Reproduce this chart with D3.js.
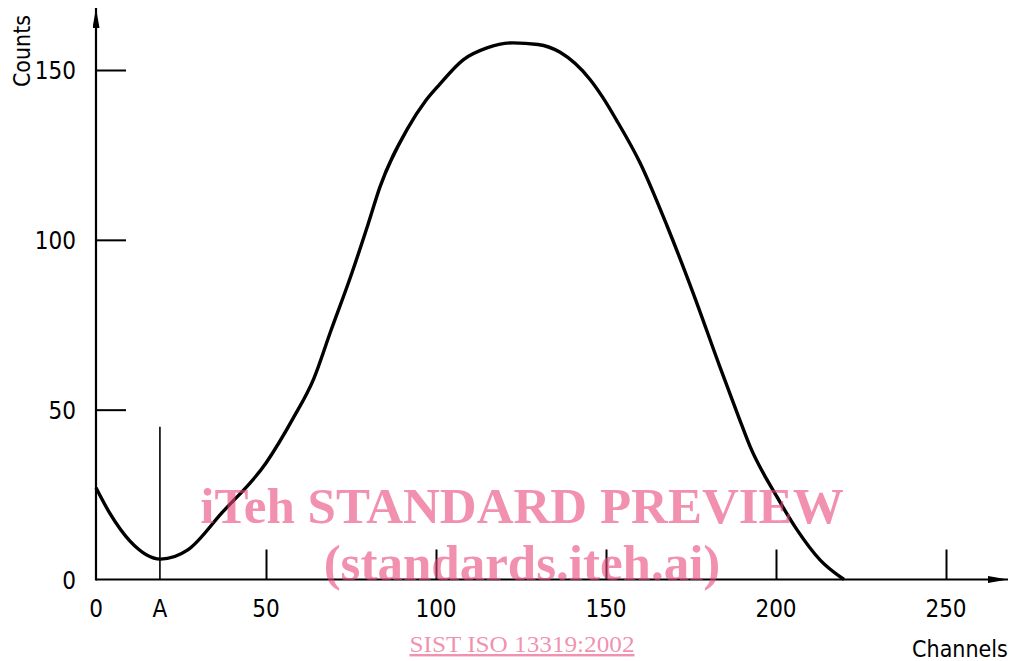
<!DOCTYPE html>
<html>
<head>
<meta charset="utf-8">
<title>Counts vs Channels</title>
<script src="https://cdn.jsdelivr.net/npm/d3@7"></script>
<style>
	body { margin: 0; background: #fff; }
	svg { display: block; }
</style>
</head>
<body>
<div id="visContainer"></div>
<script>
'use strict';

// channel positions
var channels = [0, 4, 10, 19, 27, 37, 50, 58, 64, 69, 75, 80, 83.5, 91.5, 97, 101, 108, 115, 122.6, 130,
	136.5, 145.3, 149, 153, 160, 168, 175.6, 183.5, 189, 192.4, 200.3, 206.2, 213, 220];
// counts at each channel
var counts = [27, 19.6, 11.3, 6, 8.7, 19.6, 34.3, 47.5, 59, 73, 89.5, 104.5, 115.5, 132.5, 141, 145.7, 153, 156.5, 158, 157.5,
	155.2, 147.2, 142, 135.4, 122.7, 104, 84.4, 62.6, 47.9, 39.1, 24.3, 14.6, 5.7, 0];

var xTicks = [50, 100, 150, 200, 250];
var yTicks = [50, 100, 150];
var markerA = [18.8, 45];   // channel A and height of its marker line

var svg = d3.select('#visContainer')
	.append('svg')
	.attr('width', 1010)
	.attr('height', 661);

var xScale = d3.scaleLinear().domain([0, 250]).range([96, 946]);
var yScale = d3.scaleLinear().domain([0, 150]).range([579.5, 70]);

var NUM_FONT = '"Liberation Sans Narrow", "DejaVu Sans Condensed", sans-serif';
var TXT_FONT = '"DejaVu Sans Condensed", "DejaVu Sans", sans-serif';

// arrow heads
var defs = svg.append('defs');
defs.append('marker')
	.attr('id', 'arrow')
	.attr('viewBox', '0 0 20 7')
	.attr('refX', 20)
	.attr('refY', 3.5)
	.attr('markerWidth', 20)
	.attr('markerHeight', 7)
	.attr('markerUnits', 'userSpaceOnUse')
	.attr('orient', 'auto')
	.append('path')
	.attr('d', 'M0,0 L20,3.5 L0,7 Z')
	.attr('fill', 'black');

// axes lines
svg.append('line')
	.attr('x1', xScale(0)).attr('y1', yScale(0))
	.attr('x2', 1008).attr('y2', yScale(0))
	.attr('stroke', 'black').attr('stroke-width', 2.2)
	.attr('marker-end', 'url(#arrow)');
svg.append('line')
	.attr('x1', xScale(0)).attr('y1', yScale(0) + 1)
	.attr('x2', xScale(0)).attr('y2', 8)
	.attr('stroke', 'black').attr('stroke-width', 2.2)
	.attr('marker-end', 'url(#arrow)');

// y ticks point into the plot
var yAxis = d3.axisRight(yScale).tickValues(yTicks).tickSize(30).tickFormat('');
var yg = svg.append('g')
	.attr('transform', 'translate(' + xScale(0) + ',0)')
	.call(yAxis);
yg.select('.domain').remove();
yg.selectAll('line').attr('stroke', 'black').attr('stroke-width', 2);

// y tick labels, including 0
svg.selectAll('.ylab')
	.data([0].concat(yTicks))
	.enter().append('text')
	.attr('class', 'ylab')
	.attr('x', 76)
	.attr('y', function (d) { return yScale(d) + 9; })
	.attr('text-anchor', 'end')
	.style('font-family', NUM_FONT)
	.style('font-size', '24px')
	.text(function (d) { return d; });

// x ticks point upwards
var xAxis = d3.axisTop(xScale).tickValues(xTicks).tickSize(30).tickFormat('');
var xg = svg.append('g')
	.attr('transform', 'translate(0,' + yScale(0) + ')')
	.call(xAxis);
xg.select('.domain').remove();
xg.selectAll('line').attr('stroke', 'black').attr('stroke-width', 2);

// x tick labels
svg.selectAll('.xlab')
	.data([0].concat(xTicks))
	.enter().append('text')
	.attr('class', 'xlab')
	.attr('x', function (d) { return xScale(d); })
	.attr('y', 617)
	.attr('text-anchor', 'middle')
	.style('font-family', NUM_FONT)
	.style('font-size', '24px')
	.text(function (d) { return d; });

// marker A
svg.append('line')
	.attr('x1', xScale(markerA[0])).attr('y1', yScale(0))
	.attr('x2', xScale(markerA[0])).attr('y2', yScale(markerA[1]))
	.attr('stroke', 'black').attr('stroke-width', 1.6);
svg.append('text')
	.attr('x', xScale(markerA[0]))
	.attr('y', 617)
	.attr('text-anchor', 'middle')
	.style('font-family', NUM_FONT)
	.style('font-size', '24px')
	.text('A');

// axis titles
svg.append('text')
	.attr('transform', 'translate(30,51) rotate(-90)')
	.attr('text-anchor', 'middle')
	.style('font-family', TXT_FONT)
	.style('font-size', '23px')
	.text('Counts');
svg.append('text')
	.attr('x', 960)
	.attr('y', 657)
	.attr('text-anchor', 'middle')
	.style('font-family', TXT_FONT)
	.style('font-size', '23px')
	.text('Channels');

// the spectrum curve
var lineFunction = d3.line()
	.x(function (d, i) { return xScale(channels[i]); })
	.y(function (d) { return yScale(d); })
	.curve(d3.curveMonotoneX);

svg.append('path')
	.attr('d', lineFunction(counts))
	.attr('fill', 'none')
	.attr('stroke', 'black')
	.attr('stroke-width', 3.4)
	.attr('stroke-linejoin', 'round');

// watermark
var wm = svg.append('g')
	.style('font-family', '"Liberation Serif", "Times New Roman", serif')
	.attr('fill', '#e8467a')
	.attr('fill-opacity', 0.6)
	.attr('text-anchor', 'middle');
wm.append('text')
	.attr('x', 522).attr('y', 523)
	.style('font-size', '51px').style('font-weight', 'bold')
	.text('iTeh STANDARD PREVIEW');
wm.append('text')
	.attr('x', 522).attr('y', 580)
	.style('font-size', '51px').style('font-weight', 'bold')
	.text('(standards.iteh.ai)');
wm.append('text')
	.attr('x', 522).attr('y', 652)
	.style('font-size', '24px')
	.style('text-decoration', 'underline')
	.attr('textLength', 225)
	.attr('lengthAdjust', 'spacingAndGlyphs')
	.text('SIST ISO 13319:2002');
</script>
</body>
</html>
